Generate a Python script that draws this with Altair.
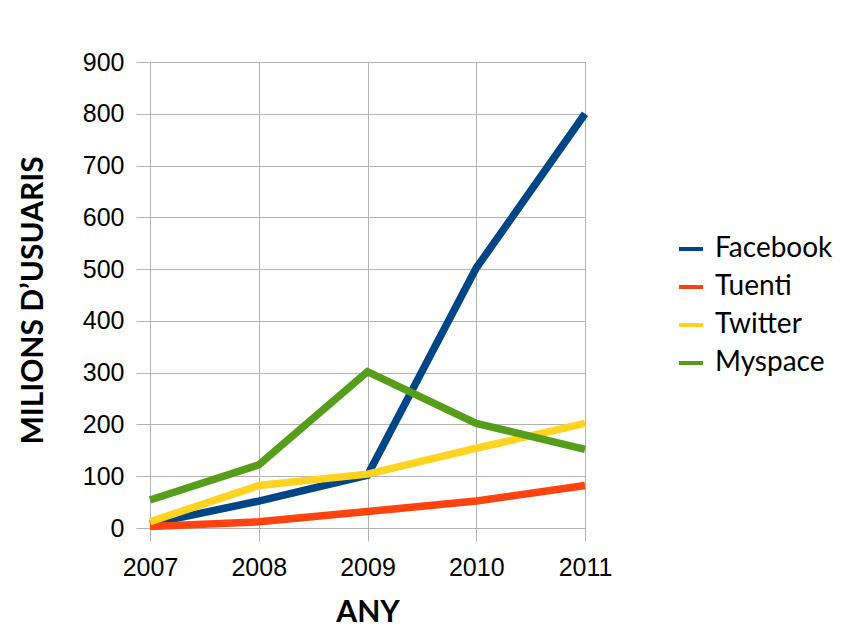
import altair as alt
import pandas as pd

years = [2007, 2008, 2009, 2010, 2011]
series = ["Facebook", "Tuenti", "Twitter", "Myspace"]
facebook = [8, 52, 102, 502, 800]
tuenti = [3, 12, 32, 52, 82]
twitter = [12, 82, 104, 154, 202]
myspace = [54, 122, 302, 202, 152]
colors = ["#004586", "#ff420e", "#ffd320", "#579d1c"]
y_ticks = [0, 100, 200, 300, 400, 500, 600, 700, 800, 900]

rows = []
for name, vals in zip(series, [facebook, tuenti, twitter, myspace]):
    for yr, v in zip(years, vals):
        rows.append({"Any": yr, "Usuaris": v, "Xarxa": name})
df = pd.DataFrame(rows)

grid = "#b3b3b3"

chart = alt.Chart(df).mark_line(strokeWidth=7.5, strokeCap="butt", strokeJoin="miter").encode(
    x=alt.X("Any:Q", scale=alt.Scale(domain=[2007, 2011], nice=False, zero=False),
            axis=alt.Axis(values=years, format="d", title="ANY", grid=True,
                          tickSize=13, labelPadding=14, labelFontSize=25,
                          labelFont="Liberation Sans", labelColor="#000000",
                          labelOverlap=False, labelFlush=False,
                          titleFont="Lato", titleFontSize=30, titleFontWeight="bold",
                          titleColor="#000000", titleY=84, titleBaseline="middle")),
    y=alt.Y("Usuaris:Q", scale=alt.Scale(domain=[0, 900], nice=False),
            axis=alt.Axis(values=y_ticks, title="MILIONS D\u2019USUARIS", grid=True,
                          tickSize=14, labelPadding=12, labelFontSize=25,
                          labelFont="Liberation Sans", labelColor="#000000",
                          labelOverlap=False, labelFlush=False,
                          titleFont="Lato", titleFontSize=30, titleFontWeight="bold",
                          titleColor="#000000", titleX=-117, titleY=238,
                          titleAngle=-90, titleBaseline="middle", titleAlign="center")),
    color=alt.Color("Xarxa:N", scale=alt.Scale(domain=series, range=colors),
                    legend=alt.Legend(title=None, orient="none", legendX=527, legendY=173,
                                      symbolType="stroke", symbolStrokeWidth=4,
                                      symbolSize=576, labelFont="Lato", labelFontSize=28,
                                      labelColor="#000000", labelOffset=10,
                                      rowPadding=10, padding=0)),
    order=alt.Order("Xarxa:N", sort="ascending"),
).properties(
    width=435,
    height=466,
    padding={"left": 142, "top": 54, "right": 264, "bottom": 106},
    autosize=alt.AutoSizeParams(type="none"),
    background="white",
).configure_axis(
    gridColor=grid, domainColor=grid, tickColor=grid, gridWidth=1, domainWidth=1
).configure_view(stroke=grid, strokeWidth=1)

chart.save("out.html", embed_options={"renderer": "svg", "actions": False})
